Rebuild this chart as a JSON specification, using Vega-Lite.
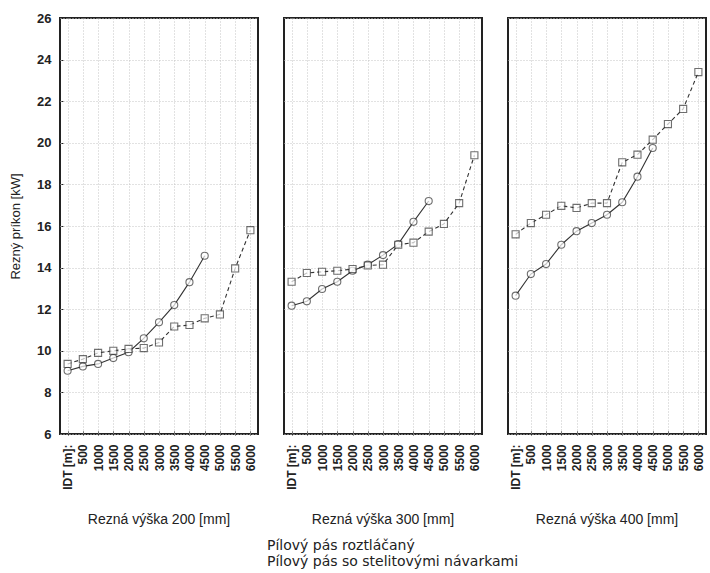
{
  "$schema": "https://vega.github.io/schema/vega-lite/v6.json",
  "padding": {"left": 9, "top": 12, "right": 0, "bottom": 0},
  "background": "white",
  "data": {"values": [
    {"p":"Rezná výška 200 [mm]","s":"Pílový pás roztláčaný","x":"IDT [m]:","m":0,"v":9.04},
    {"p":"Rezná výška 200 [mm]","s":"Pílový pás roztláčaný","x":"500","m":500,"v":9.25},
    {"p":"Rezná výška 200 [mm]","s":"Pílový pás roztláčaný","x":"1000","m":1000,"v":9.37},
    {"p":"Rezná výška 200 [mm]","s":"Pílový pás roztláčaný","x":"1500","m":1500,"v":9.65},
    {"p":"Rezná výška 200 [mm]","s":"Pílový pás roztláčaný","x":"2000","m":2000,"v":9.93},
    {"p":"Rezná výška 200 [mm]","s":"Pílový pás roztláčaný","x":"2500","m":2500,"v":10.6},
    {"p":"Rezná výška 200 [mm]","s":"Pílový pás roztláčaný","x":"3000","m":3000,"v":11.37},
    {"p":"Rezná výška 200 [mm]","s":"Pílový pás roztláčaný","x":"3500","m":3500,"v":12.2},
    {"p":"Rezná výška 200 [mm]","s":"Pílový pás roztláčaný","x":"4000","m":4000,"v":13.3},
    {"p":"Rezná výška 200 [mm]","s":"Pílový pás roztláčaný","x":"4500","m":4500,"v":14.57},
    {"p":"Rezná výška 200 [mm]","s":"Pílový pás so stelitovými návarkami","x":"IDT [m]:","m":0,"v":9.37},
    {"p":"Rezná výška 200 [mm]","s":"Pílový pás so stelitovými návarkami","x":"500","m":500,"v":9.6},
    {"p":"Rezná výška 200 [mm]","s":"Pílový pás so stelitovými návarkami","x":"1000","m":1000,"v":9.9},
    {"p":"Rezná výška 200 [mm]","s":"Pílový pás so stelitovými návarkami","x":"1500","m":1500,"v":10.0},
    {"p":"Rezná výška 200 [mm]","s":"Pílový pás so stelitovými návarkami","x":"2000","m":2000,"v":10.09},
    {"p":"Rezná výška 200 [mm]","s":"Pílový pás so stelitovými návarkami","x":"2500","m":2500,"v":10.13},
    {"p":"Rezná výška 200 [mm]","s":"Pílový pás so stelitovými návarkami","x":"3000","m":3000,"v":10.4},
    {"p":"Rezná výška 200 [mm]","s":"Pílový pás so stelitovými návarkami","x":"3500","m":3500,"v":11.17},
    {"p":"Rezná výška 200 [mm]","s":"Pílový pás so stelitovými návarkami","x":"4000","m":4000,"v":11.24},
    {"p":"Rezná výška 200 [mm]","s":"Pílový pás so stelitovými návarkami","x":"4500","m":4500,"v":11.56},
    {"p":"Rezná výška 200 [mm]","s":"Pílový pás so stelitovými návarkami","x":"5000","m":5000,"v":11.75},
    {"p":"Rezná výška 200 [mm]","s":"Pílový pás so stelitovými návarkami","x":"5500","m":5500,"v":13.96},
    {"p":"Rezná výška 200 [mm]","s":"Pílový pás so stelitovými návarkami","x":"6000","m":6000,"v":15.8},
    {"p":"Rezná výška 300 [mm]","s":"Pílový pás roztláčaný","x":"IDT [m]:","m":0,"v":12.17},
    {"p":"Rezná výška 300 [mm]","s":"Pílový pás roztláčaný","x":"500","m":500,"v":12.38},
    {"p":"Rezná výška 300 [mm]","s":"Pílový pás roztláčaný","x":"1000","m":1000,"v":12.97},
    {"p":"Rezná výška 300 [mm]","s":"Pílový pás roztláčaný","x":"1500","m":1500,"v":13.32},
    {"p":"Rezná výška 300 [mm]","s":"Pílový pás roztláčaný","x":"2000","m":2000,"v":13.85},
    {"p":"Rezná výška 300 [mm]","s":"Pílový pás roztláčaný","x":"2500","m":2500,"v":14.14},
    {"p":"Rezná výška 300 [mm]","s":"Pílový pás roztláčaný","x":"3000","m":3000,"v":14.6},
    {"p":"Rezná výška 300 [mm]","s":"Pílový pás roztláčaný","x":"3500","m":3500,"v":15.13},
    {"p":"Rezná výška 300 [mm]","s":"Pílový pás roztláčaný","x":"4000","m":4000,"v":16.2},
    {"p":"Rezná výška 300 [mm]","s":"Pílový pás roztláčaný","x":"4500","m":4500,"v":17.2},
    {"p":"Rezná výška 300 [mm]","s":"Pílový pás so stelitovými návarkami","x":"IDT [m]:","m":0,"v":13.32},
    {"p":"Rezná výška 300 [mm]","s":"Pílový pás so stelitovými návarkami","x":"500","m":500,"v":13.74},
    {"p":"Rezná výška 300 [mm]","s":"Pílový pás so stelitovými návarkami","x":"1000","m":1000,"v":13.8},
    {"p":"Rezná výška 300 [mm]","s":"Pílový pás so stelitovými návarkami","x":"1500","m":1500,"v":13.85},
    {"p":"Rezná výška 300 [mm]","s":"Pílový pás so stelitovými návarkami","x":"2000","m":2000,"v":13.93},
    {"p":"Rezná výška 300 [mm]","s":"Pílový pás so stelitovými návarkami","x":"2500","m":2500,"v":14.1},
    {"p":"Rezná výška 300 [mm]","s":"Pílový pás so stelitovými návarkami","x":"3000","m":3000,"v":14.14},
    {"p":"Rezná výška 300 [mm]","s":"Pílový pás so stelitovými návarkami","x":"3500","m":3500,"v":15.1},
    {"p":"Rezná výška 300 [mm]","s":"Pílový pás so stelitovými návarkami","x":"4000","m":4000,"v":15.2},
    {"p":"Rezná výška 300 [mm]","s":"Pílový pás so stelitovými návarkami","x":"4500","m":4500,"v":15.73},
    {"p":"Rezná výška 300 [mm]","s":"Pílový pás so stelitovými návarkami","x":"5000","m":5000,"v":16.1},
    {"p":"Rezná výška 300 [mm]","s":"Pílový pás so stelitovými návarkami","x":"5500","m":5500,"v":17.1},
    {"p":"Rezná výška 300 [mm]","s":"Pílový pás so stelitovými návarkami","x":"6000","m":6000,"v":19.4},
    {"p":"Rezná výška 400 [mm]","s":"Pílový pás roztláčaný","x":"IDT [m]:","m":0,"v":12.65},
    {"p":"Rezná výška 400 [mm]","s":"Pílový pás roztláčaný","x":"500","m":500,"v":13.69},
    {"p":"Rezná výška 400 [mm]","s":"Pílový pás roztláčaný","x":"1000","m":1000,"v":14.17},
    {"p":"Rezná výška 400 [mm]","s":"Pílový pás roztláčaný","x":"1500","m":1500,"v":15.1},
    {"p":"Rezná výška 400 [mm]","s":"Pílový pás roztláčaný","x":"2000","m":2000,"v":15.75},
    {"p":"Rezná výška 400 [mm]","s":"Pílový pás roztláčaný","x":"2500","m":2500,"v":16.14},
    {"p":"Rezná výška 400 [mm]","s":"Pílový pás roztláčaný","x":"3000","m":3000,"v":16.54},
    {"p":"Rezná výška 400 [mm]","s":"Pílový pás roztláčaný","x":"3500","m":3500,"v":17.14},
    {"p":"Rezná výška 400 [mm]","s":"Pílový pás roztláčaný","x":"4000","m":4000,"v":18.37},
    {"p":"Rezná výška 400 [mm]","s":"Pílový pás roztláčaný","x":"4500","m":4500,"v":19.75},
    {"p":"Rezná výška 400 [mm]","s":"Pílový pás so stelitovými návarkami","x":"IDT [m]:","m":0,"v":15.6},
    {"p":"Rezná výška 400 [mm]","s":"Pílový pás so stelitovými návarkami","x":"500","m":500,"v":16.14},
    {"p":"Rezná výška 400 [mm]","s":"Pílový pás so stelitovými návarkami","x":"1000","m":1000,"v":16.54},
    {"p":"Rezná výška 400 [mm]","s":"Pílový pás so stelitovými návarkami","x":"1500","m":1500,"v":16.97},
    {"p":"Rezná výška 400 [mm]","s":"Pílový pás so stelitovými návarkami","x":"2000","m":2000,"v":16.87},
    {"p":"Rezná výška 400 [mm]","s":"Pílový pás so stelitovými návarkami","x":"2500","m":2500,"v":17.1},
    {"p":"Rezná výška 400 [mm]","s":"Pílový pás so stelitovými návarkami","x":"3000","m":3000,"v":17.1},
    {"p":"Rezná výška 400 [mm]","s":"Pílový pás so stelitovými návarkami","x":"3500","m":3500,"v":19.06},
    {"p":"Rezná výška 400 [mm]","s":"Pílový pás so stelitovými návarkami","x":"4000","m":4000,"v":19.43},
    {"p":"Rezná výška 400 [mm]","s":"Pílový pás so stelitovými návarkami","x":"4500","m":4500,"v":20.15},
    {"p":"Rezná výška 400 [mm]","s":"Pílový pás so stelitovými návarkami","x":"5000","m":5000,"v":20.9},
    {"p":"Rezná výška 400 [mm]","s":"Pílový pás so stelitovými návarkami","x":"5500","m":5500,"v":21.63},
    {"p":"Rezná výška 400 [mm]","s":"Pílový pás so stelitovými návarkami","x":"6000","m":6000,"v":23.4}
  ]},
  "facet": {
    "column": {
      "field": "p", "type": "nominal",
      "sort": ["Rezná výška 200 [mm]", "Rezná výška 300 [mm]", "Rezná výška 400 [mm]"],
      "header": {"title": null, "labelOrient": "bottom", "labelFont": "Liberation Sans", "labelFontSize": 14, "labelColor": "#222", "labelPadding": 24}
    }
  },
  "spacing": {"column": 24},
  "spec": {
    "width": 198,
    "height": 416,
    "encoding": {
      "x": {
        "field": "x", "type": "ordinal",
        "sort": ["IDT [m]:", "500", "1000", "1500", "2000", "2500", "3000", "3500", "4000", "4500", "5000", "5500", "6000"],
        "scale": {"type": "point", "padding": 0.5},
        "axis": {"title": null, "labelAngle": 270, "labelAlign": "right", "labelBaseline": "middle", "labelFont": "Liberation Sans", "labelFontSize": 12, "labelFontWeight": "bold", "labelColor": "#222", "labelPadding": 13, "tickSize": -4, "tickColor": "#222", "domain": false, "grid": true, "gridColor": "#c4c4c4", "gridDash": [1, 2], "labelOverlap": false}
      },
      "y": {
        "field": "v", "type": "quantitative",
        "scale": {"domain": [6, 26], "nice": false},
        "axis": {"title": "Rezný príkon [kW]", "titleFont": "Liberation Sans", "titleFontSize": 13, "titleFontWeight": "normal", "titleColor": "#222", "titlePadding": 14, "values": [6, 8, 10, 12, 14, 16, 18, 20, 22, 24, 26], "labelFont": "Liberation Sans", "labelFontSize": 13, "labelFontWeight": "bold", "labelColor": "#222", "labelPadding": 12, "tickSize": -4, "tickColor": "#222", "domain": false, "grid": true, "gridColor": "#c4c4c4", "gridDash": [1, 2]}
      }
    },
    "layer": [
      {
        "transform": [{"filter": "datum.s === 'Pílový pás roztláčaný'"}],
        "mark": {"type": "line", "color": "#333", "strokeWidth": 1.1},
        "encoding": {"order": {"field": "m", "type": "quantitative"}}
      },
      {
        "transform": [{"filter": "datum.s === 'Pílový pás so stelitovými návarkami'"}],
        "mark": {"type": "line", "color": "#333", "strokeWidth": 1.1, "strokeDash": [4, 3]},
        "encoding": {"order": {"field": "m", "type": "quantitative"}}
      },
      {
        "mark": {"type": "point", "filled": true, "fill": "white", "stroke": "#333", "strokeWidth": 1.1, "size": 50},
        "encoding": {
          "shape": {
            "field": "s", "type": "nominal",
            "scale": {"domain": ["Pílový pás roztláčaný", "Pílový pás so stelitovými návarkami"], "range": ["circle", "square"]},
            "legend": {
              "title": null, "orient": "none", "legendX": 186, "legendY": 521, "direction": "vertical",
              "symbolSize": 50, "symbolOpacity": 1, "labelFont": "DejaVu Sans", "labelFontSize": 14, "labelColor": "#222", "labelOffset": 7, "labelLimit": 400, "rowPadding": 2,
              "symbolStrokeColor": "#333", "symbolFillColor": "white", "symbolStrokeWidth": 1,
              "encode": {"symbols": {
                "size": {"value": 50},
                "stroke": {"value": "#333"},
                "fill": {"value": "white"},
                "strokeWidth": {"value": 1},
                "opacity": {"value": 1},
                "fillOpacity": {"value": 1},
                "strokeOpacity": {"value": 1}
              }}
            }
          }
        }
      }
    ]
  },
  "config": {
    "view": {"stroke": "#222", "strokeWidth": 2}
  }
}
